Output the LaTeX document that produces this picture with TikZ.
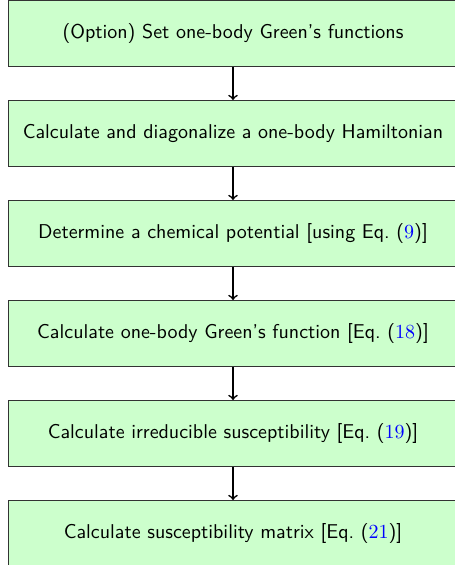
\documentclass[tikz,border=0pt]{standalone}
\usepackage{amsmath}
\usepackage{tikz}
\usetikzlibrary{shapes,arrows,positioning}

\newcommand{\eqnum}[1]{(\textcolor{blue}{$#1$})}

\begin{document}
\begin{tikzpicture}[
    x=1pt, y=1pt,
    node distance=16.5pt,
    font=\sffamily
]

% =========================
% Styles
% =========================
\tikzstyle{stepbox} = [
    rectangle, draw=black!80,
    fill=green!20,
    minimum width=225pt,
    minimum height=33pt,
    text centered,
    line width=0.5pt
]

\tikzstyle{line} = [draw, ->, line width=0.8pt]

\useasboundingbox (0,0) rectangle (227,-282.5);

% =========================
% Nodes
% =========================
\node[stepbox] (green) at (116.5,-16.75)
    {(Option) Set one-body Green's functions};

\node[stepbox, below=of green] (hamil)
    {Calculate and diagonalize a one-body Hamiltonian};

\node[stepbox, below=of hamil] (chempot)
    {Determine a chemical potential [using Eq.~\eqnum{9}]};

\node[stepbox, below=of chempot] (gfunc)
    {Calculate one-body Green's function [Eq.~\eqnum{18}]};

\node[stepbox, below=of gfunc] (irrchi)
    {Calculate irreducible susceptibility [Eq.~\eqnum{19}]};

\node[stepbox, below=of irrchi] (chimat)
    {Calculate susceptibility matrix [Eq.~\eqnum{21}]};

% =========================
% Connections
% =========================
\path[line] (green) -- (hamil);
\path[line] (hamil) -- (chempot);
\path[line] (chempot) -- (gfunc);
\path[line] (gfunc) -- (irrchi);
\path[line] (irrchi) -- (chimat);

\end{tikzpicture}
\end{document}
